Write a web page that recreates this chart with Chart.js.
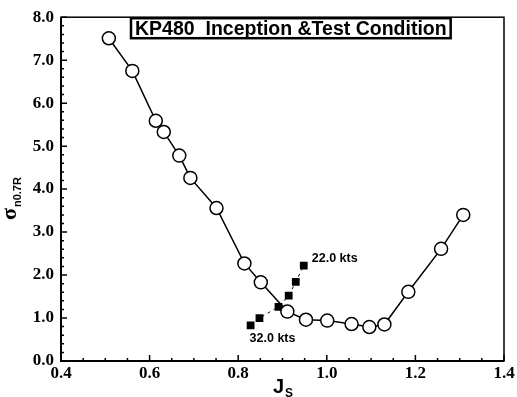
<!DOCTYPE html>
<html>
<head>
<meta charset="utf-8">
<script src="https://cdn.jsdelivr.net/npm/chart.js@4.4.1/dist/chart.umd.min.js"></script>
<style>
html,body{margin:0;padding:0;background:#fff;}
#wrap{width:517px;height:397px;position:relative;}
</style>
</head>
<body>
<div id="wrap"><canvas id="c" width="517" height="397"></canvas></div>
<script>
const chartTitle = "KP480  Inception &Test Condition";
const xTitleMain = "J";
const xTitleSub = "S";
const yTitleMain = "\u03C3";
const yTitleSub = "n0.7R";
const xTicks = [0.4, 0.6, 0.8, 1.0, 1.2, 1.4];
const yTicks = [0, 1, 2, 3, 4, 5, 6, 7, 8];

const inceptionJ = [0.508,0.561,0.614,0.632,0.667,0.692,0.751,0.814,0.851,0.911,0.953,1.001,1.056,1.096,1.130,1.184,1.258,1.308];
const inceptionSigma = [7.51,6.75,5.59,5.33,4.78,4.26,3.56,2.27,1.83,1.15,0.96,0.94,0.86,0.79,0.85,1.61,2.61,3.40];

const testJ = [0.828,0.848,0.891,0.914,0.930,0.948];
const testSigma = [0.83,1.00,1.26,1.52,1.84,2.22];
const testLabelHigh = "22.0 kts";
const testLabelLow = "32.0 kts";

const inceptionData = inceptionJ.map((v,i)=>({x:v,y:inceptionSigma[i]}));
const testData = testJ.map((v,i)=>({x:v,y:testSigma[i]}));

const decor = {
  id:'decor',
  afterDraw(chart){
    const {ctx, chartArea:a, scales:{x,y}} = chart;
    ctx.save();
    ctx.strokeStyle = '#000';
    // frame
    ctx.lineWidth = 1.5;
    ctx.strokeRect(a.left, a.top, a.right-a.left, a.bottom-a.top);
    ctx.lineWidth = 2;
    ctx.beginPath();
    ctx.moveTo(a.left, a.top); ctx.lineTo(a.left, a.bottom); ctx.lineTo(a.right, a.bottom);
    ctx.stroke();
    // ticks (major + minor) inside
    ctx.lineWidth = 1.5;
    ctx.beginPath();
    for (let i=0;i<=40;i++){
      const v = yTicks[0] + i*0.2;
      const p = y.getPixelForValue(v);
      const len = (i%5===0)?6:3;
      ctx.moveTo(a.left, p); ctx.lineTo(a.left+len, p);
    }
    for (let i=0;i<=20;i++){
      const v = xTicks[0] + i*0.05;
      const p = x.getPixelForValue(v);
      const len = (i%4===0)?6:3;
      ctx.moveTo(p, a.bottom); ctx.lineTo(p, a.bottom-len);
    }
    ctx.stroke();

    // title box
    ctx.font = 'bold 19.5px "Liberation Sans", Arial, sans-serif';
    ctx.textBaseline = 'middle';
    ctx.textAlign = 'left';
    const tw = ctx.measureText(chartTitle).width;
    const bx = 131, by = a.top+1, bh = 20;
    ctx.fillStyle = '#fff';
    ctx.fillRect(bx, by, tw+8, bh);
    ctx.lineWidth = 2.5;
    ctx.strokeRect(bx, by, tw+8, bh);
    ctx.fillStyle = '#000';
    ctx.fillText(chartTitle, bx+4, by+bh/2+1);

    // data labels
    ctx.font = 'bold 12.5px "Liberation Sans", Arial, sans-serif';
    const last = testData[testData.length-1], first = testData[0];
    ctx.fillText(testLabelHigh, x.getPixelForValue(last.x)+8, y.getPixelForValue(last.y)-7);
    ctx.fillText(testLabelLow, x.getPixelForValue(first.x)-1, y.getPixelForValue(first.y)+13);

    // x title
    ctx.font = 'bold 20px "Liberation Sans", Arial, sans-serif';
    ctx.textBaseline = 'alphabetic';
    const xc = 273;
    ctx.fillText(xTitleMain, xc, 393);
    const jw = ctx.measureText(xTitleMain).width;
    ctx.font = 'bold 12px "Liberation Sans", Arial, sans-serif';
    ctx.fillText(xTitleSub, xc+jw+1, 397);

    // y title rotated
    ctx.save();
    ctx.translate(16, 220);
    ctx.rotate(-Math.PI/2);
    ctx.font = 'bold 22px "Liberation Serif", "Times New Roman", serif';
    ctx.fillText(yTitleMain, 0, 0);
    const sw = ctx.measureText(yTitleMain).width;
    ctx.font = 'bold 11px "Liberation Sans", Arial, sans-serif';
    ctx.fillText(yTitleSub, sw+1, 5);
    ctx.restore();

    ctx.restore();
  }
};

new Chart(document.getElementById('c'), {
  type:'scatter',
  data:{
    datasets:[
      {
        label:'Inception',
        data:inceptionData,
        showLine:true,
        borderColor:'#000',
        borderWidth:1.5,
        pointStyle:'circle',
        pointRadius:6.5,
        pointBackgroundColor:'#fff',
        pointBorderColor:'#000',
        pointBorderWidth:1.5,
        order:1
      },
      {
        label:'Test Condition',
        data:testData,
        showLine:true,
        borderColor:'#000',
        borderWidth:1,
        borderDash:[3,4],
        pointStyle:'rect',
        pointRadius:5.5,
        pointBackgroundColor:'#000',
        pointBorderColor:'#000',
        pointBorderWidth:0,
        order:2
      }
    ]
  },
  options:{
    responsive:false,
    animation:false,
    devicePixelRatio:1,
    layout:{padding:{top:12,right:13,left:0,bottom:0}},
    plugins:{legend:{display:false},tooltip:{enabled:false},title:{display:false}},
    scales:{
      x:{
        type:'linear',min:xTicks[0],max:xTicks[xTicks.length-1],
        afterBuildTicks:s=>{s.ticks = xTicks.map(v=>({value:v}));},
        afterFit:s=>{s.height=36;},
        grid:{display:false,drawTicks:false},
        border:{display:false},
        ticks:{padding:2,color:'#000',font:{family:'"Liberation Serif", "Times New Roman", serif',size:17,weight:'bold'},callback:v=>Number(v).toFixed(1),maxRotation:0,autoSkip:false}
      },
      y:{
        type:'linear',min:yTicks[0],max:yTicks[yTicks.length-1],
        afterBuildTicks:s=>{s.ticks = yTicks.map(v=>({value:v}));},
        afterFit:s=>{s.width=61;},
        grid:{display:false,drawTicks:false},
        border:{display:false},
        ticks:{padding:7,color:'#000',font:{family:'"Liberation Serif", "Times New Roman", serif',size:17,weight:'bold'},callback:v=>Number(v).toFixed(1),autoSkip:false}
      }
    }
  },
  plugins:[decor]
});
</script>
</body>
</html>
